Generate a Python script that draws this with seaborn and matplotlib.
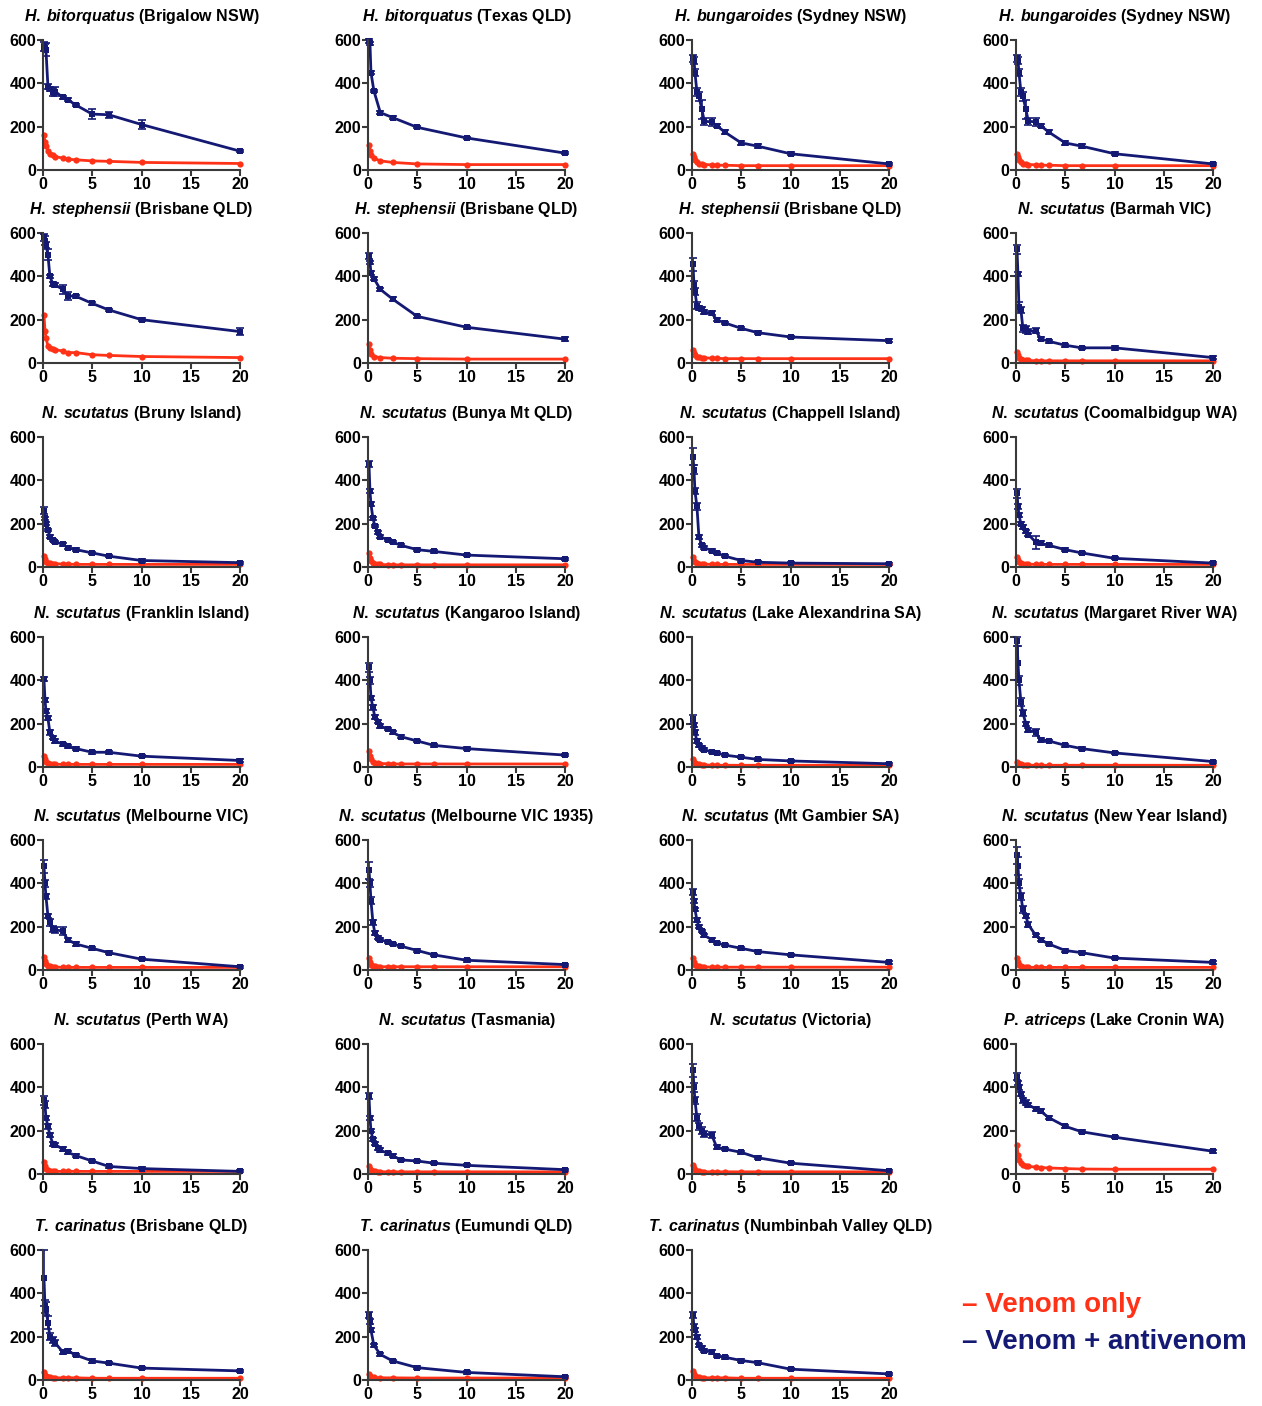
import matplotlib
matplotlib.use("Agg")
import matplotlib.pyplot as plt
import pandas as pd
import seaborn as sns

# data
###############################################################################

DOSE_FULL = [0.1, 0.2, 0.3, 0.5, 0.7, 1.0, 1.25, 2.0, 2.5, 3.33, 5.0, 6.67, 10.0, 20.0]
DOSE_SHORT = [0.1, 0.2, 0.3, 0.6, 1.25, 2.5, 5.0, 10.0, 20.0]

SPECIES = ['H. bitorquatus', 'H. bitorquatus', 'H. bungaroides', 'H. bungaroides',
           'H. stephensii', 'H. stephensii', 'H. stephensii', 'N. scutatus',
           'N. scutatus', 'N. scutatus', 'N. scutatus', 'N. scutatus',
           'N. scutatus', 'N. scutatus', 'N. scutatus', 'N. scutatus',
           'N. scutatus', 'N. scutatus', 'N. scutatus', 'N. scutatus',
           'N. scutatus', 'N. scutatus', 'N. scutatus', 'P. atriceps',
           'T. carinatus', 'T. carinatus', 'T. carinatus']

SITES = ['Brigalow NSW', 'Texas QLD', 'Sydney NSW', 'Sydney NSW',
         'Brisbane QLD', 'Brisbane QLD', 'Brisbane QLD', 'Barmah VIC',
         'Bruny Island', 'Bunya Mt QLD', 'Chappell Island', 'Coomalbidgup WA',
         'Franklin Island', 'Kangaroo Island', 'Lake Alexandrina SA', 'Margaret River WA',
         'Melbourne VIC', 'Melbourne VIC 1935', 'Mt Gambier SA', 'New Year Island',
         'Perth WA', 'Tasmania', 'Victoria', 'Lake Cronin WA',
         'Brisbane QLD', 'Eumundi QLD', 'Numbinbah Valley QLD']

SHORT_GRID = [False, True, False, False, False, True, False, False,
              False, False, False, False, False, False, False, False,
              False, False, False, False, False, False, False, False,
              False, True, False]

# Venom + antivenom
ANTIVENOM = [
    [570, 565, 555, 385, 375, 360, 362, 335, 325, 300, 258, 255, 210, 87],
    [595, 585, 450, 365, 265, 242, 197, 148, 78],
    [515, 505, 450, 360, 340, 280, 225, 222, 205, 175, 125, 110, 75, 28],
    [515, 505, 450, 360, 340, 280, 225, 222, 205, 175, 125, 110, 75, 28],
    [580, 565, 545, 500, 400, 365, 360, 340, 310, 308, 275, 245, 200, 145],
    [495, 465, 415, 390, 340, 295, 215, 165, 110],
    [455, 360, 330, 265, 255, 250, 235, 230, 200, 185, 160, 140, 120, 103],
    [525, 410, 260, 245, 160, 155, 145, 150, 112, 100, 82, 70, 70, 25],
    [260, 225, 200, 170, 140, 125, 115, 105, 90, 80, 65, 50, 30, 20],
    [475, 350, 290, 225, 190, 160, 140, 125, 115, 100, 80, 72, 55, 38],
    [510, 450, 350, 280, 140, 100, 90, 75, 65, 50, 30, 22, 18, 15],
    [340, 280, 240, 200, 185, 165, 150, 115, 110, 100, 80, 65, 40, 18],
    [405, 310, 260, 225, 160, 135, 120, 105, 95, 85, 68, 68, 50, 30],
    [460, 400, 320, 275, 230, 210, 190, 175, 160, 140, 120, 100, 85, 55],
    [220, 195, 160, 120, 100, 90, 80, 70, 65, 55, 45, 35, 28, 15],
    [580, 480, 400, 300, 250, 200, 170, 160, 125, 120, 100, 85, 65, 25],
    [480, 400, 340, 250, 220, 190, 185, 180, 140, 120, 100, 80, 50, 15],
    [460, 400, 320, 220, 170, 150, 140, 130, 120, 110, 90, 70, 45, 25],
    [360, 320, 280, 230, 200, 180, 160, 140, 125, 115, 100, 85, 70, 35],
    [530, 480, 400, 340, 280, 250, 210, 160, 140, 120, 90, 80, 55, 35],
    [340, 320, 260, 220, 180, 140, 135, 115, 100, 85, 60, 35, 25, 12],
    [360, 260, 200, 160, 140, 120, 110, 95, 85, 65, 60, 50, 40, 20],
    [480, 400, 340, 260, 220, 200, 185, 180, 125, 115, 100, 75, 50, 15],
    [450, 420, 400, 370, 340, 330, 320, 300, 290, 260, 220, 195, 170, 105],
    [470, 340, 330, 265, 200, 185, 170, 130, 135, 115, 88, 78, 55, 42],
    [300, 270, 230, 160, 118, 88, 57, 35, 15],
    [300, 245, 230, 200, 160, 150, 135, 130, 110, 105, 90, 80, 50, 28],
]

ANTIVENOM_ERR = [
    [20, 15, 30, 10, 10, 20, 20, 8, 8, 6, 22, 15, 20, 6],
    [8, 8, 8, 6, 6, 5, 5, 5, 5],
    [15, 15, 15, 20, 20, 45, 15, 20, 8, 8, 8, 8, 6, 5],
    [15, 15, 15, 20, 20, 45, 15, 20, 8, 8, 8, 8, 6, 5],
    [15, 20, 15, 25, 8, 8, 8, 20, 20, 8, 6, 6, 6, 15],
    [15, 8, 8, 6, 8, 8, 6, 6, 8],
    [30, 20, 15, 15, 10, 10, 10, 10, 6, 6, 6, 6, 6, 6],
    [20, 10, 20, 15, 15, 15, 10, 10, 8, 6, 6, 6, 10, 6],
    [15, 8, 6, 6, 6, 6, 6, 6, 6, 6, 6, 5, 5, 5],
    [15, 10, 8, 6, 6, 6, 6, 6, 6, 6, 6, 6, 5, 5],
    [40, 20, 15, 15, 10, 8, 6, 6, 6, 6, 5, 5, 5, 5],
    [20, 10, 8, 8, 8, 8, 8, 30, 8, 6, 6, 5, 5, 5],
    [10, 10, 10, 10, 10, 8, 8, 6, 6, 6, 6, 6, 5, 5],
    [20, 15, 10, 10, 8, 8, 8, 6, 6, 6, 6, 6, 6, 6],
    [20, 10, 10, 8, 6, 6, 6, 6, 6, 5, 5, 5, 5, 5],
    [20, 80, 20, 20, 15, 10, 10, 15, 10, 6, 6, 6, 6, 5],
    [30, 15, 10, 10, 15, 15, 15, 20, 10, 8, 6, 6, 6, 5],
    [40, 15, 15, 10, 10, 8, 8, 6, 6, 6, 6, 6, 6, 5],
    [15, 10, 8, 8, 6, 6, 6, 6, 6, 6, 6, 6, 6, 6],
    [40, 40, 20, 15, 15, 10, 10, 8, 6, 6, 6, 6, 6, 6],
    [20, 15, 10, 10, 10, 10, 10, 10, 6, 6, 6, 6, 6, 5],
    [15, 10, 8, 8, 8, 8, 8, 8, 6, 6, 6, 5, 5, 5],
    [30, 20, 15, 15, 15, 15, 15, 15, 10, 6, 6, 6, 6, 5],
    [15, 10, 10, 10, 10, 10, 10, 10, 8, 6, 6, 6, 6, 6],
    [130, 30, 30, 30, 15, 15, 15, 10, 8, 6, 8, 6, 6, 5],
    [15, 10, 8, 6, 6, 6, 6, 6, 5],
    [15, 15, 10, 10, 8, 8, 8, 8, 6, 6, 6, 6, 6, 5],
]

# Venom only
VENOM = [
    [160, 130, 110, 90, 75, 68, 62, 55, 50, 47, 42, 40, 35, 30],
    [115, 90, 70, 55, 42, 35, 28, 25, 25],
    [75, 60, 45, 35, 30, 28, 25, 24, 22, 22, 20, 20, 20, 20],
    [75, 60, 45, 35, 30, 28, 25, 24, 22, 22, 20, 20, 20, 20],
    [220, 150, 115, 80, 70, 65, 62, 55, 48, 48, 38, 35, 30, 25],
    [90, 60, 40, 30, 25, 22, 20, 18, 18],
    [60, 45, 35, 30, 28, 25, 24, 22, 22, 20, 20, 20, 20, 20],
    [50, 35, 25, 18, 15, 14, 12, 10, 10, 10, 10, 10, 10, 10],
    [50, 35, 25, 20, 18, 15, 15, 14, 13, 12, 12, 12, 12, 12],
    [65, 40, 28, 20, 15, 12, 12, 10, 10, 10, 10, 10, 10, 10],
    [45, 30, 22, 18, 15, 14, 13, 12, 12, 12, 12, 12, 12, 12],
    [45, 32, 25, 18, 15, 14, 13, 12, 12, 12, 12, 12, 12, 12],
    [50, 35, 25, 20, 15, 14, 13, 12, 12, 12, 12, 12, 12, 12],
    [75, 50, 35, 25, 20, 18, 16, 15, 14, 14, 14, 14, 14, 14],
    [35, 25, 18, 14, 12, 10, 10, 8, 8, 8, 8, 8, 8, 8],
    [25, 18, 14, 12, 10, 8, 8, 8, 8, 8, 8, 8, 8, 8],
    [60, 40, 28, 20, 18, 15, 14, 12, 12, 12, 12, 12, 12, 12],
    [55, 35, 25, 20, 18, 16, 15, 15, 15, 15, 15, 15, 15, 15],
    [55, 35, 25, 20, 17, 15, 14, 13, 13, 13, 13, 13, 13, 13],
    [55, 35, 25, 18, 15, 13, 12, 12, 12, 12, 12, 12, 12, 12],
    [55, 35, 25, 18, 15, 12, 12, 12, 12, 12, 12, 12, 12, 12],
    [35, 25, 18, 14, 12, 10, 10, 10, 10, 10, 10, 10, 10, 10],
    [40, 28, 20, 15, 12, 10, 10, 10, 10, 10, 10, 10, 10, 10],
    [135, 90, 65, 50, 42, 38, 35, 32, 30, 28, 25, 23, 22, 22],
    [35, 25, 18, 14, 12, 10, 10, 10, 10, 10, 8, 8, 8, 8],
    [30, 20, 15, 12, 10, 10, 9, 9, 9],
    [40, 28, 18, 14, 12, 10, 10, 10, 10, 10, 8, 8, 8, 8],
]

GROUPS = ['Venom only', 'Venom + antivenom']

# style
###############################################################################

RED = '#ff3218'
BLUE = '#141a74'
SPINE = '#3a3a3a'

sns.set_style('ticks')
plt.rcParams['font.family'] = ['Liberation Sans', 'DejaVu Sans']
plt.rcParams['font.weight'] = 'bold'
plt.rcParams['text.color'] = 'black'
plt.rcParams['mathtext.fontset'] = 'custom'
plt.rcParams['mathtext.it'] = 'Liberation Sans:italic:bold'
plt.rcParams['mathtext.rm'] = 'Liberation Sans:bold'

W, H = 1262, 1406
fig = plt.figure(figsize=(W / 100, H / 100), dpi=100)

col_left = [43, 368, 692, 1016]
row_top = [40, 233, 437, 637, 840, 1044, 1250]
ax_w, ax_h = 197, 130

for i in range(len(SPECIES)):
    r, c = divmod(i, 4)
    ax = fig.add_axes([col_left[c] / W, 1 - (row_top[r] + ax_h) / H, ax_w / W, ax_h / H])

    dose = DOSE_SHORT if SHORT_GRID[i] else DOSE_FULL
    n = len(dose)
    df = pd.DataFrame({'dose': dose + dose,
                       'value': VENOM[i] + ANTIVENOM[i],
                       'group': [GROUPS[0]] * n + [GROUPS[1]] * n})

    ax.errorbar(dose, ANTIVENOM[i], yerr=ANTIVENOM_ERR[i], fmt='none',
                ecolor=BLUE, elinewidth=1.2, capsize=3, capthick=1.2, clip_on=False)
    sns.lineplot(data=df, x='dose', y='value', hue='group', style='group',
                 palette={GROUPS[0]: RED, GROUPS[1]: BLUE},
                 markers={GROUPS[0]: 'o', GROUPS[1]: 's'},
                 dashes=False, errorbar=None, legend=False, ax=ax,
                 linewidth=2.0, markersize=4.5, markeredgewidth=0, clip_on=False)

    ax.set(xlim=(0, 20), ylim=(0, 600), xlabel='', ylabel='')
    ax.set_xticks([0, 5, 10, 15, 20])
    ax.set_yticks([0, 200, 400, 600])
    sns.despine(ax=ax)
    for side in ['left', 'bottom']:
        ax.spines[side].set_color(SPINE)
        ax.spines[side].set_linewidth(1.5)
    ax.tick_params(labelsize=11.5, width=1.5, length=4, color=SPINE,
                   labelcolor='black', pad=1)
    for lab in ax.get_xticklabels() + ax.get_yticklabels():
        lab.set_fontweight('bold')

    sp = SPECIES[i].replace(' ', r'\:')
    ax.set_title(r'$\mathit{' + sp + '}$ (' + SITES[i] + ')',
                 fontsize=11.5, fontweight='bold', pad=14, color='black')

fig.text(962 / W, 1 - 1305 / H, '\u2013 Venom only', color=RED,
         fontsize=20, fontweight='bold', va='center', ha='left')
fig.text(962 / W, 1 - 1342 / H, '\u2013 Venom + antivenom', color=BLUE,
         fontsize=20, fontweight='bold', va='center', ha='left')

plt.savefig('out.png', dpi=100)
